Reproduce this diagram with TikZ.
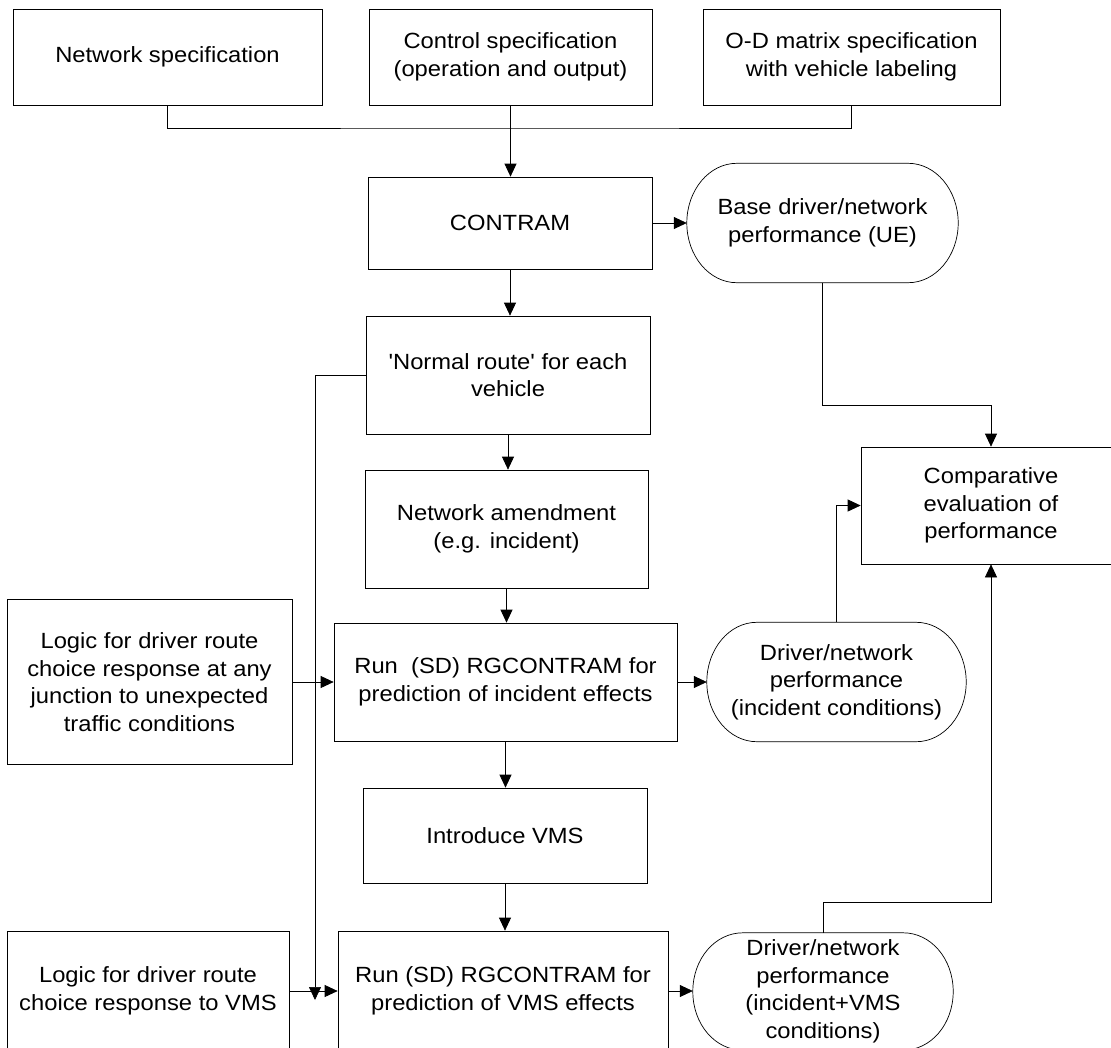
\documentclass[tikz,border=0pt]{standalone}
\usepackage{fontspec}
\newfontfamily\diagfont{Liberation Sans}[FakeStretch=1.08]
\usetikzlibrary{arrows.meta,calc}
\newcommand{\pillpath}[1]{%
  \draw[line width=0.7pt] ($(#1.north west)+(50,0)$) -- ($(#1.north east)+(-50,0)$)
    .. controls ($(#1.north east)+(-22.4,0)$) and ($(#1.east)+(0,32.9)$) .. (#1.east)
    .. controls ($(#1.east)+(0,-32.9)$) and ($(#1.south east)+(-22.4,0)$) .. ($(#1.south east)+(-50,0)$)
    -- ($(#1.south west)+(50,0)$)
    .. controls ($(#1.south west)+(22.4,0)$) and ($(#1.west)+(0,-32.9)$) .. (#1.west)
    .. controls ($(#1.west)+(0,32.9)$) and ($(#1.north west)+(22.4,0)$) .. ($(#1.north west)+(50,0)$);}
\begin{document}
\begin{tikzpicture}[x=1pt,y=1pt,
  box/.style={draw, line width=0.7pt, rectangle, inner sep=0pt, align=center,
    font=\diagfont\fontsize{22}{27.5}\selectfont},
  pill/.style={draw=none, rectangle, inner sep=0pt, align=center,
    font=\diagfont\fontsize{22}{27.5}\selectfont},
  arr/.style={line width=0.7pt, -{Triangle[length=13pt,width=12pt]}},
  conn/.style={line width=0.7pt}]
\useasboundingbox (0,0) rectangle (1111,-1047);

% top row
\node[box, minimum width=309, minimum height=96] (net) at (167.5,-57) {Network specification};
\node[box, minimum width=283, minimum height=96] (ctrl) at (510.5,-57) {Control specification\\(operation and output)};
\node[box, minimum width=297, minimum height=96] (od) at (851.5,-57) {O-D matrix specification\\with vehicle labeling};

% main column
\node[box, minimum width=284, minimum height=92] (contram) at (510,-223) {CONTRAM};
\node[box, minimum width=284, minimum height=118] (normal) at (508,-375) {'Normal route' for each\\vehicle};
\node[box, minimum width=283, minimum height=118] (amend) at (506.5,-529) {Network amendment\\(e.g. incident)};
\node[box, minimum width=343, minimum height=118] (runinc) at (505.5,-682) {Run\ \ (SD) RGCONTRAM for\\prediction of incident effects};
\node[box, minimum width=284, minimum height=95] (vms) at (505,-835.5) {Introduce VMS};
\node[box, minimum width=330, minimum height=120] (runvms) at (503,-991) {Run (SD) RGCONTRAM for\\prediction of VMS effects};

% left column
\node[box, minimum width=285, minimum height=165] (logic1) at (149.5,-682) {Logic for driver route\\choice response at any\\junction to unexpected\\traffic conditions};
\node[box, minimum width=282, minimum height=120] (logic2) at (148,-991) {Logic for driver route\\choice response to VMS};

% right column
\node[pill, minimum width=271, minimum height=119] (base) at (822.5,-223) {Base driver/network\\performance (UE)};
\node[box, minimum width=260, minimum height=117] (comp) at (991,-505.5) {Comparative\\evaluation of\\performance};
\node[pill, minimum width=259, minimum height=119] (pinc) at (836.5,-682) {Driver/network\\performance\\(incident conditions)};
\node[pill, minimum width=260, minimum height=117] (pvms) at (823,-991.5) {Driver/network\\performance\\(incident+VMS\\conditions)};
\pillpath{base}
\pillpath{pinc}
\pillpath{pvms}

% connectors
\coordinate (jn) at (510.5,-128);
\draw[conn] (net.south) |- (jn) -| (od.south);
\draw[arr] (ctrl.south) -- (ctrl.south |- contram.north);
\draw[arr] (contram.east) -- (contram.east -| base.west);
\draw[arr] (contram.south) -- (contram.south |- normal.north);
\draw[arr] (base.south) -- ++(0,-123) -| (comp.north);
\draw[arr] (normal.south) -- (normal.south |- amend.north);
\coordinate (vend) at (315,-1000);
\draw[arr] (normal.west) -| (vend);
\draw[arr] (amend.south) -- (amend.south |- runinc.north);
\draw[arr] (logic1.east) -- (logic1.east -| runinc.west);
\draw[arr] (runinc.east) -- (runinc.east -| pinc.west);
\draw[arr] (pinc.north) |- (comp.west);
\draw[arr] (runinc.south) -- (runinc.south |- vms.north);
\draw[arr] (vms.south) -- (vms.south |- runvms.north);
\draw[arr] (logic2.east) -- (logic2.east -| runvms.west);
\draw[arr] (runvms.east) -- (runvms.east -| pvms.west);
\draw[arr] (pvms.north) -- ++(0,30) -| (comp.south);
\end{tikzpicture}
\end{document}
